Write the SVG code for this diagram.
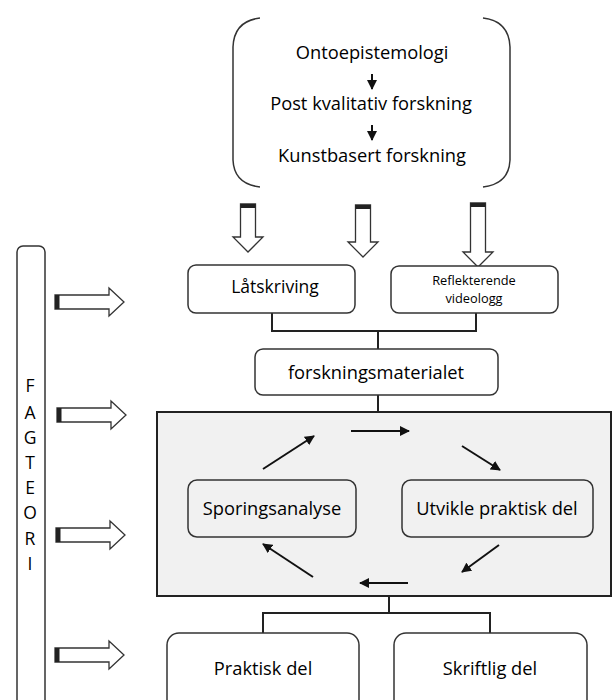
<svg xmlns="http://www.w3.org/2000/svg" width="612" height="700" viewBox="0 0 612 700">
  <defs>
    <marker id="head" viewBox="0 0 10 10" refX="9" refY="5" markerWidth="5" markerHeight="5" orient="auto" markerUnits="strokeWidth">
      <path d="M0,0 L10,5 L0,10 z" fill="#111"/>
    </marker>
    <!-- hollow block arrow pointing down, origin at top centre -->
    <symbol id="blockDown" overflow="visible">
      <path d="M-7.5,0 H7.5 V33 H15 L0,48 L-15,33 H-7.5 Z" fill="#fff" stroke="#333" stroke-width="1.3"/>
      <rect x="-7.5" y="0" width="15" height="4" fill="#222"/>
    </symbol>
    <!-- hollow block arrow pointing right, origin at left middle -->
    <symbol id="blockRight" overflow="visible">
      <path d="M0,-7 H54 V-14 L69,0 L54,14 V7 H0 Z" fill="#fff" stroke="#333" stroke-width="1.3"/>
      <rect x="0" y="-7" width="4.5" height="14" fill="#222"/>
    </symbol>
  </defs>
  <style>
    text { font-family: "Open Sans", "Liberation Sans", sans-serif; fill: #000; text-anchor: middle; }
    .box { fill: #fff; stroke: #333; stroke-width: 1.5; }
    .cbox { fill: #f1f1f1; stroke: #333; stroke-width: 1.5; }
    .line { fill: none; stroke: #222; stroke-width: 2; }
    .arr { fill: none; stroke: #111; stroke-width: 2; marker-end: url(#head); }
    .bracket { fill: none; stroke: #333; stroke-width: 1.5; }
    .t { font-size: 18.3px; }
    .v { font-size: 17.5px; }
  </style>

  <rect width="612" height="700" fill="#fff"/>

  <!-- methodological frame -->
  <g id="frame">
    <path class="bracket" d="M260,18 Q234,21 233,47 L233,160 Q234,184 260,187"/>
    <path class="bracket" d="M483,18 Q509,21 510,47 L510,160 Q509,184 483,187"/>
    <text class="t" x="372" y="59">Ontoepistemologi</text>
    <text class="t" x="371" y="110">Post kvalitativ forskning</text>
    <text class="t" x="372" y="162">Kunstbasert forskning</text>
    <line class="arr" x1="372" y1="74" x2="372" y2="89" stroke-width="1.8"/>
    <line class="arr" x1="372" y1="125" x2="372" y2="140" stroke-width="1.8"/>
  </g>

  <!-- inputs from the frame -->
  <g id="frame-arrows">
    <use href="#blockDown" x="248" y="204"/>
    <g transform="translate(363,205)">
      <path d="M-7.5,0 H7.5 V37 H15 L0,52 L-15,37 H-7.5 Z" fill="#fff" stroke="#333" stroke-width="1.3"/>
      <rect x="-7.5" y="0" width="15" height="4" fill="#222"/>
    </g>
    <g transform="translate(478,203)">
      <path d="M-7.5,0 H7.5 V49 H15 L0,64 L-15,49 H-7.5 Z" fill="#fff" stroke="#333" stroke-width="1.3"/>
      <rect x="-7.5" y="0" width="15" height="4" fill="#222"/>
    </g>
  </g>

  <!-- FAGTEORI side bar -->
  <g id="fagteori">
    <rect class="box" x="17" y="246" width="28" height="470" rx="6"/>
    <text class="v" x="30" y="392">F</text>
    <text class="v" x="30" y="419">A</text>
    <text class="v" x="30" y="444">G</text>
    <text class="v" x="30" y="469">T</text>
    <text class="v" x="30" y="494">E</text>
    <text class="v" x="30" y="519">O</text>
    <text class="v" x="30" y="545">R</text>
    <text class="v" x="30" y="570">I</text>
    <use href="#blockRight" x="55" y="302"/>
    <use href="#blockRight" x="57" y="415"/>
    <use href="#blockRight" x="56" y="535"/>
    <use href="#blockRight" x="55" y="655"/>
  </g>

  <!-- connectors -->
  <g id="connectors">
    <path class="line" d="M272,313 V331 H476 V313"/>
    <path class="line" d="M378,331 V349"/>
    <path class="line" d="M378,395 V412"/>
    <path class="line" d="M389,596 V613"/>
    <path class="line" d="M263,633 V613 H490 V633"/>
  </g>

  <g id="latskriving">
    <rect class="box" x="188" y="265" width="167" height="48" rx="8"/>
    <text x="275" y="293" font-size="17.5">Låtskriving</text>
  </g>

  <g id="videologg">
    <rect class="box" x="391" y="266" width="167" height="47" rx="8"/>
    <text x="474" y="284.5" font-size="12.8">Reflekterende</text>
    <text x="474" y="302.5" font-size="12.8">videologg</text>
  </g>

  <g id="forskningsmaterialet">
    <rect class="box" x="255" y="349" width="243" height="46" rx="8"/>
    <text class="t" x="376" y="379">forskningsmaterialet</text>
  </g>

  <!-- analysis cycle -->
  <g id="cycle">
    <rect x="157" y="412" width="454" height="184" fill="#f1f1f1" stroke="#222" stroke-width="2"/>
    <g id="sporingsanalyse">
      <rect class="cbox" x="188" y="480" width="168" height="57" rx="9"/>
      <text class="t" x="272" y="515">Sporingsanalyse</text>
    </g>
    <g id="utvikle">
      <rect class="cbox" x="402" y="480" width="191" height="57" rx="9"/>
      <text class="t" x="497" y="515">Utvikle praktisk del</text>
    </g>
    <g id="cycle-arrows">
      <line class="arr" x1="263" y1="469" x2="314" y2="436"/>
      <line class="arr" x1="351" y1="431" x2="409" y2="431"/>
      <line class="arr" x1="462" y1="446" x2="500" y2="470"/>
      <line class="arr" x1="499" y1="545" x2="462" y2="572"/>
      <line class="arr" x1="408" y1="583" x2="360" y2="583"/>
      <line class="arr" x1="313" y1="577" x2="263" y2="544"/>
    </g>
  </g>

  <g id="praktisk">
    <rect class="box" x="167" y="633" width="192" height="80" rx="12"/>
    <text class="t" x="263" y="675">Praktisk del</text>
  </g>

  <g id="skriftlig">
    <rect class="box" x="394" y="633" width="193" height="80" rx="12"/>
    <text class="t" x="490" y="675">Skriftlig del</text>
  </g>
</svg>
